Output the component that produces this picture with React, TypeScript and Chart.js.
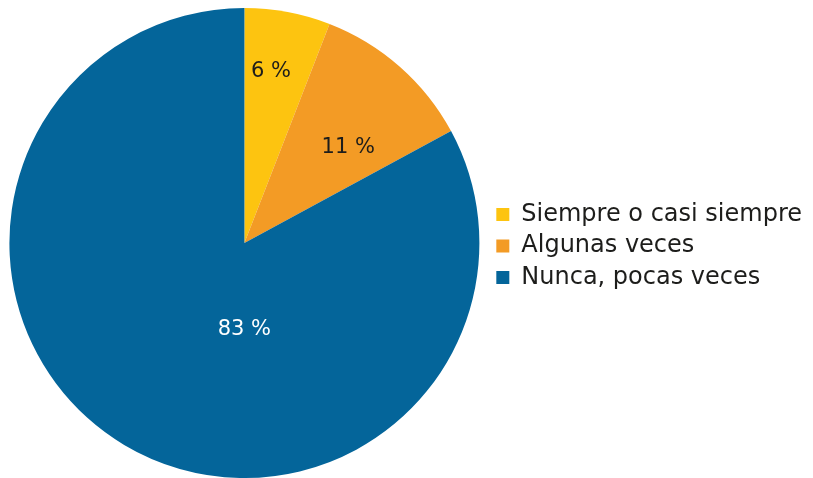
import React, { useEffect, useRef } from "react";
import { Chart, registerables } from "chart.js";

Chart.register(...registerables);

const categories = ["Siempre o casi siempre", "Algunas veces", "Nunca, pocas veces"];
const values = [5.9, 11.2, 82.9];
const valueLabels = ["6 %", "11 %", "83 %"];
const colors = ["#FDC410", "#F39B25", "#04659A"];
const labelColors = ["#1d1d1b", "#1d1d1b", "#ffffff"];
// label placement: fraction along the slice's angle span, fraction of radius
const labelAngleFrac = [0.415, 0.65, 0.397];
const labelRadiusFrac = [0.74, 0.6, 0.37];

const FONT = "'DejaVu Sans', sans-serif";

const sliceLabels = {
  id: "sliceLabels",
  afterLayout(chart: any) {
    const lg = chart.legend;
    if (lg) {
      lg.top += 3;
      lg.bottom += 3;
    }
  },
  afterDatasetsDraw(chart: any) {
    const ctx = chart.ctx;
    const meta = chart.getDatasetMeta(0);
    ctx.save();
    ctx.font = "21px " + FONT;
    ctx.textAlign = "center";
    ctx.textBaseline = "middle";
    meta.data.forEach((arc: any, i: number) => {
      const p = arc.getProps(["x", "y", "startAngle", "endAngle", "outerRadius"], true);
      const a = p.startAngle + (p.endAngle - p.startAngle) * labelAngleFrac[i];
      const r = p.outerRadius * labelRadiusFrac[i];
      ctx.fillStyle = labelColors[i];
      ctx.fillText(valueLabels[i], p.x + Math.cos(a) * r, p.y + Math.sin(a) * r);
    });
    ctx.restore();
  },
};

export default function App() {
  const ref = useRef<HTMLCanvasElement>(null);
  useEffect(() => {
    const chart = new Chart(ref.current as HTMLCanvasElement, {
      type: "pie",
      data: {
        labels: categories,
        datasets: [
          {
            data: values,
            backgroundColor: colors,
            borderWidth: 0,
          },
        ],
      },
      options: {
        responsive: false,
        animation: false,
        layout: { padding: { top: 8, bottom: 0, left: -2, right: 1 } },
        plugins: {
          tooltip: { enabled: false },
          legend: {
            position: "right",
            labels: {
              boxWidth: 13,
              boxHeight: 13,
              padding: 7.5,
              color: "#1d1d1b",
              font: { size: 24, family: FONT },
            },
          },
        },
      },
      plugins: [sliceLabels],
    });
    return () => chart.destroy();
  }, []);
  return (
    <div style={{ position: "fixed", left: 0, top: 0, width: 813, height: 478, background: "#fff" }}>
      <canvas ref={ref} width={813} height={478} />
    </div>
  );
}
